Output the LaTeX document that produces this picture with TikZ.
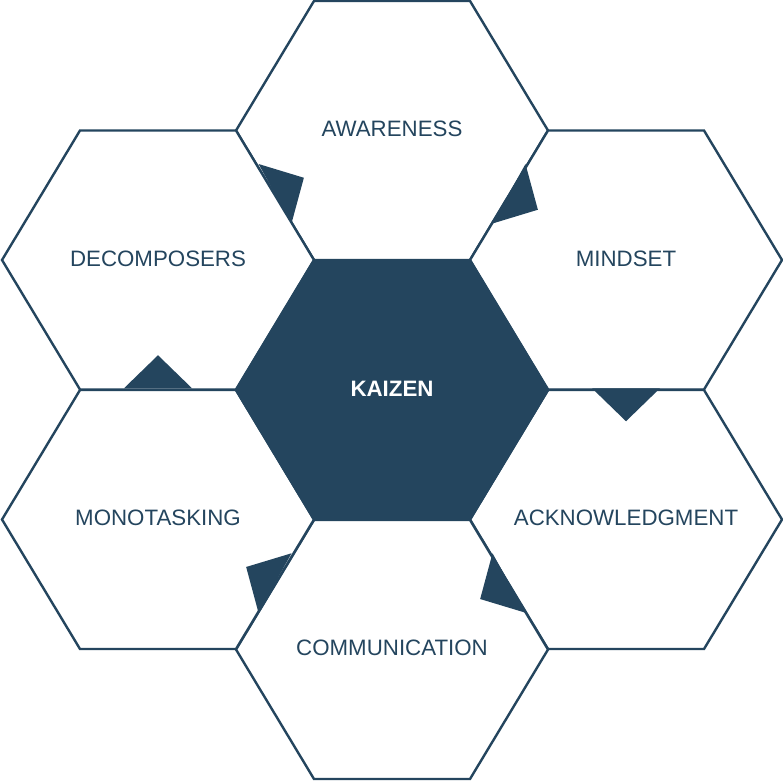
\documentclass[tikz,border=0pt]{standalone}
\usepackage{fontspec}
\setmainfont{Liberation Sans}
\usepackage{tikz}
\usetikzlibrary{calc}
\definecolor{kzblue}{RGB}{36,69,94}

\begin{document}
\begin{tikzpicture}[x=1pt,y=-1pt,
  hexcell/.style={draw=kzblue, line width=2.4pt, fill=white, line join=miter},
  hexcore/.style={draw=kzblue, line width=2.4pt, fill=kzblue, line join=miter},
  celltext/.style={text=kzblue, font=\fontsize{22.3}{25}\selectfont, inner sep=0pt},
  coretext/.style={text=white, font=\fontsize{22.3}{25}\selectfont\bfseries, inner sep=0pt},
  notch/.style={fill=kzblue, draw=none}
]
\useasboundingbox (0,0) rectangle (783,783);
% outer ring of cells
\foreach \cx/\cy/\name/\txt in {392/130.5/awareness/AWARENESS,
    626/260/mindset/MINDSET,
    626/519.5/acknowledgment/ACKNOWLEDGMENT,
    392/649.5/communication/COMMUNICATION,
    158/519.5/monotasking/MONOTASKING,
    158/260/decomposers/DECOMPOSERS}{
  \draw[hexcell, shift={(\cx,\cy)}] (-156,0) -- (-78,-129.5) -- (78,-129.5) -- (156,0) -- (78,129.5) -- (-78,129.5) -- cycle;
  \node[celltext] (\name) at (\cx,\cy-1.5) {\txt};
}
% centre cell
\draw[hexcore, shift={(392,390)}] (-156,0) -- (-78,-129.5) -- (78,-129.5) -- (156,0) -- (78,129.5) -- (-78,129.5) -- cycle;
\node[coretext] (kaizen) at (392,389) {KAIZEN};
% notches on the shared edges
\foreach \from/\into in {decomposers/awareness, awareness/mindset,
    mindset/acknowledgment, acknowledgment/communication,
    communication/monotasking, monotasking/decomposers}{
  \coordinate (m) at ($(\from)!0.5!(\into)$);
  \fill[notch] ($(m)!34pt!90:(\into)$) -- ($(m)!33pt!(\into)$) -- ($(m)!34pt!-90:(\into)$) -- cycle;
}
\end{tikzpicture}
\end{document}
